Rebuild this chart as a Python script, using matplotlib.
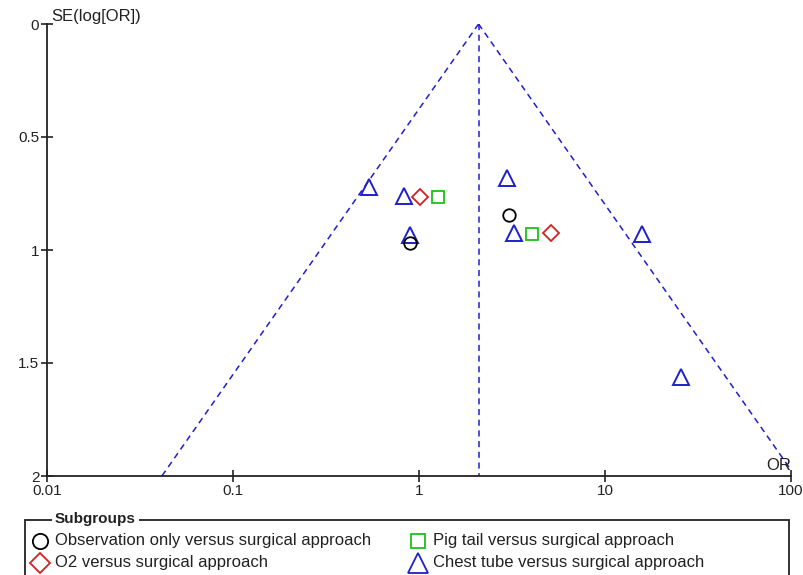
import numpy as np
import matplotlib
matplotlib.use("Agg")
import matplotlib.pyplot as plt
from matplotlib.lines import Line2D
import matplotlib.patches as patches

plt.rcParams['font.family'] = ['Liberation Sans', 'DejaVu Sans']

# study points (odds ratio, standard error of log OR)
obs_or = [0.90, 3.03]
obs_se = [0.97, 0.845]
o2_or = [1.01, 5.1]
o2_se = [0.765, 0.925]
pig_or = [1.27, 4.04]
pig_se = [0.765, 0.93]
chest_or = [0.54, 0.83, 0.90, 2.99, 3.23, 15.8, 25.6]
chest_se = [0.72, 0.76, 0.935, 0.68, 0.925, 0.93, 1.56]

pooled_or = 2.09
se_range = np.array([0.0, 2.0])

x_ticks = [0.01, 0.1, 1, 10, 100]
x_labels = ['0.01', '0.1', '1', '10', '100']
y_ticks = [0, 0.5, 1, 1.5, 2]
y_labels = ['0', '0.5', '1', '1.5', '2']

legend_labels = ['Observation only versus surgical approach',
                 'O2 versus surgical approach',
                 'Pig tail versus surgical approach',
                 'Chest tube versus surgical approach']

blue = '#1f1fcc'
red = '#d42020'
green = '#1cc21c'
ink = '#222222'

fig = plt.figure(figsize=(8.04, 5.75), dpi=100)
ax = fig.add_axes([47 / 804, 1 - 476 / 575, (791 - 47) / 804, (476 - 24) / 575])

ax.set_xscale('log')
ax.set_xlim(0.01, 100)
ax.set_ylim(2, 0)

# funnel (95% pseudo confidence limits)
lo = np.exp(np.log(pooled_or) - 1.96 * se_range)
hi = np.exp(np.log(pooled_or) + 1.96 * se_range)
dash = (0, (4, 3))
ax.plot(lo, se_range, ls=dash, color=blue, lw=1.1)
ax.plot(hi, se_range, ls=dash, color=blue, lw=1.1)
ax.plot([pooled_or, pooled_or], se_range, ls=dash, color=blue, lw=1.1)

ax.plot(chest_or, chest_se, ls='none', marker='^', ms=11, mfc='none', mec=blue, mew=1.4)
ax.plot(obs_or, obs_se, ls='none', marker='o', ms=9, mfc='none', mec='black', mew=1.3)
ax.plot(pig_or, pig_se, ls='none', marker='s', ms=8, mfc='none', mec=green, mew=1.3)
ax.plot(o2_or, o2_se, ls='none', marker='D', ms=8, mfc='none', mec=red, mew=1.3)

for side in ['top', 'right']:
    ax.spines[side].set_visible(False)
for side in ['left', 'bottom']:
    ax.spines[side].set_linewidth(1.3)
    ax.spines[side].set_color(ink)

ax.set_xticks(x_ticks)
ax.set_xticklabels(x_labels)
ax.set_yticks(y_ticks)
ax.set_yticklabels(y_labels)
ax.minorticks_off()
ax.tick_params(direction='inout', length=9, width=1.2, labelsize=11, colors=ink, pad=1)

ax.text(0.0106, 0.0, 'SE(log[OR])', fontsize=12, ha='left', va='bottom', color=ink)
ax.text(100, 1.985, 'OR', fontsize=12, ha='right', va='bottom', color=ink)

# legend box in RevMan style
box = patches.Rectangle((25 / 804, -0.02), (789 - 25) / 804, (575 - 520) / 575 + 0.02,
                        transform=fig.transFigure, fill=False, lw=1.3, edgecolor=ink)
fig.add_artist(box)
fig.text(55 / 804, 1 - 519 / 575, 'Subgroups', fontsize=11, fontweight='bold', ha='left',
         va='center', color=ink,
         bbox=dict(facecolor='white', edgecolor='none', pad=2))

entries = [('o', 'black', 11, 40, 541),
           ('D', red, 10, 40, 563),
           ('s', green, 10, 418, 541),
           ('^', blue, 15, 418, 563)]
for (mk, col, ms, px, py), label in zip(entries, legend_labels):
    fig.add_artist(Line2D([px / 804], [1 - py / 575], transform=fig.transFigure,
                          marker=mk, ms=ms, mfc='none', mec=col, mew=1.3, ls='none'))
    fig.text((px + 15) / 804, 1 - py / 575, label, fontsize=12, ha='left', va='center',
             color=ink)

fig.savefig('out.png', dpi=100)
